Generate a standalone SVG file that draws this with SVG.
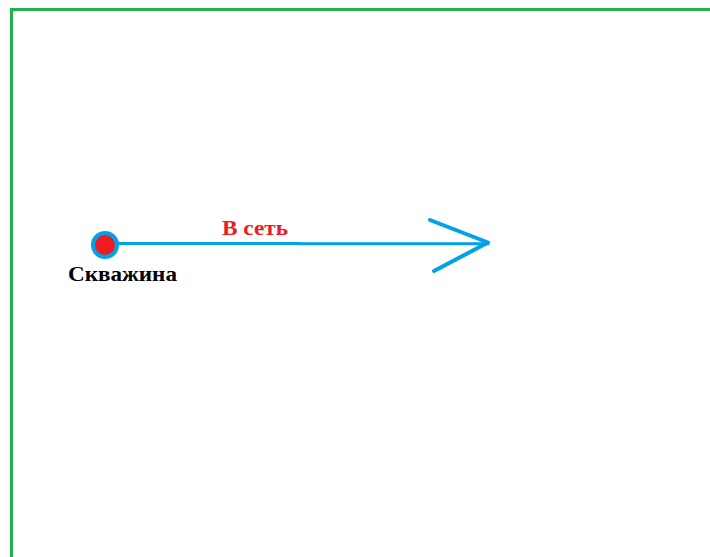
<svg xmlns="http://www.w3.org/2000/svg" width="710" height="557" viewBox="0 0 710 557">
<style>
.lbl{font-family:"Liberation Serif","Times New Roman",serif;font-weight:bold}
.pipe{stroke:#00A2E8;fill:none;stroke-linecap:round;stroke-linejoin:round}
</style>
<rect width="710" height="557" fill="#fff"/>
<g id="border">
<path d="M11.5 557 V9.5 H710" stroke="#22B14C" stroke-width="3" fill="none"/>
</g>
<g id="connectors">
<path class="pipe" d="M117 243.5 H300 M300 243.8 H488" stroke-width="3"/>
<path class="pipe" d="M430 220 L488 242.5 L434 271" stroke-width="4"/>
</g>
<g id="well">
<circle cx="105" cy="245" r="12" fill="#ED1C24" stroke="#00A2E8" stroke-width="4"/>
<text class="lbl" x="68" y="281" font-size="22" fill="#000" textLength="109" lengthAdjust="spacingAndGlyphs">Скважина</text>
</g>
<g id="label">
<text class="lbl" x="222" y="235" font-size="22" fill="#ED1C24" textLength="66" lengthAdjust="spacingAndGlyphs">В сеть</text>
</g>
</svg>
